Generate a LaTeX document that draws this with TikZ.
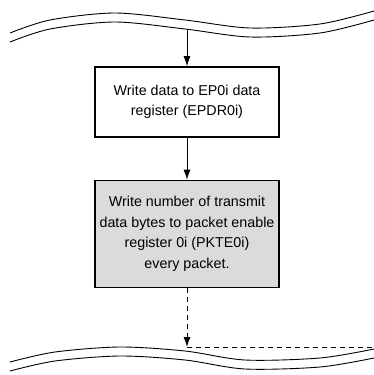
\documentclass[tikz,border=0pt]{standalone}
\usepackage{fontspec}
\setmainfont{Liberation Sans}
\usetikzlibrary{arrows.meta}

\begin{document}
\begin{tikzpicture}[>={Latex[length=10pt,width=7pt]}, x=1pt, y=-1pt,
    stepbox/.style={draw, line width=1.6pt, minimum width=184pt, align=center,
      font=\fontsize{14.3}{20.5}\selectfont, inner sep=0pt},
    wave/.style={line width=0.9pt},
    flow/.style={->, line width=0.9pt}]
    \useasboundingbox (0,0) rectangle (374,375);
    % breaks in the flow, top and bottom
    \foreach \d in {0,9}
      \draw[wave, shift={(0,\d)}] plot[smooth] coordinates
        {(10,33) (50,20) (115,13) (185,20) (250,28) (320,24) (374,11)};
    \foreach \d in {0,9}
      \draw[wave, shift={(0,\d)}] plot[smooth] coordinates
        {(10,362) (55,352) (120,347) (185,351) (245,360) (320,358) (374,349)};
    \node[stepbox, minimum height=70pt] (wrdata) at (187,102)
      {Write data to EP0i data\\register (EPDR0i)};
    \node[stepbox, fill=gray!28, minimum height=107pt] (pkte) at (187,234)
      {Write number of transmit\\data bytes to packet enable\\register 0i (PKTE0i)\\every packet.};
    \coordinate (in) at (187,29);
    \coordinate (out) at (187,347);
    \coordinate (back) at (374,347);
    \draw[flow] (in) -- (wrdata);
    \draw[flow] (wrdata) -- (pkte);
    \draw[flow, dash pattern=on 5pt off 4pt] (pkte) -- (out);
    \draw[line width=0.9pt, dash pattern=on 5pt off 4pt] (out) -- (back);
\end{tikzpicture}
\end{document}
